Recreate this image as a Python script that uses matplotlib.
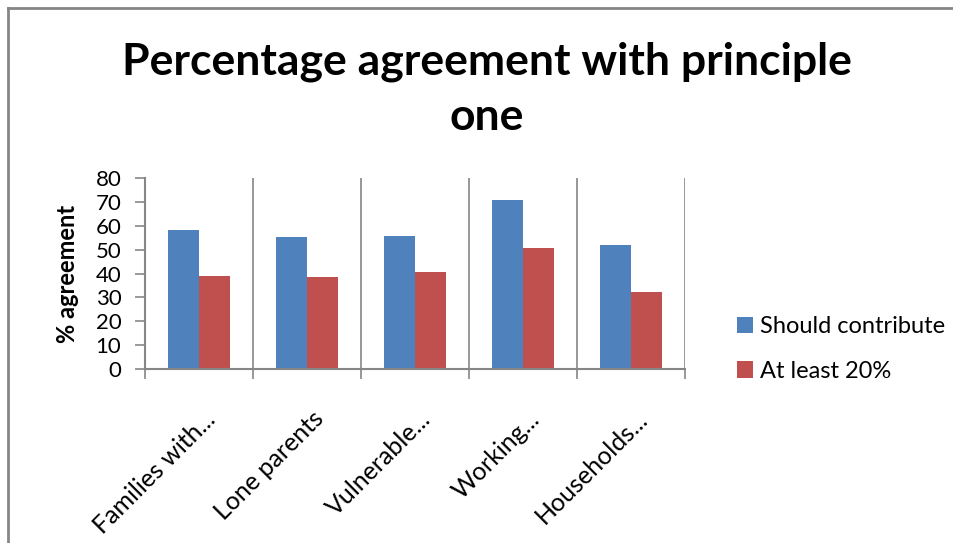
import numpy as np
import matplotlib.pyplot as plt
from matplotlib.lines import Line2D

categories = ['Families with...', 'Lone parents', 'Vulnerable...', 'Working...', 'Households...']
should_contribute = [58.3, 55.4, 55.8, 70.8, 52.0]
at_least_20 = [39.0, 38.6, 40.7, 50.7, 32.3]
series_names = ['Should contribute', 'At least 20%']

grey = '#868686'
blue = '#4F81BD'
red = '#C0504D'
title_font = ['Lato', 'DejaVu Sans']
body_font = ['Lato', 'DejaVu Sans']

fig = plt.figure(figsize=(9.54, 5.43), dpi=100)
ax = fig.add_axes([145 / 954, 174 / 543, 540 / 954, 191 / 543])

x = np.arange(len(categories))
w = 1 / 3.5
ax.bar(x - w / 2, should_contribute, w, color=blue, label=series_names[0])
ax.bar(x + w / 2, at_least_20, w, color=red, label=series_names[1])

ax.set_xlim(-0.5, len(categories) - 0.5)
ax.set_ylim(0, 80)
ax.set_yticks(range(0, 81, 10))
ax.tick_params(axis='y', direction='out', length=7, color=grey, width=1.2,
               labelsize=16, pad=10)

# category boundaries: ticks below the axis and vertical gridlines
bounds = np.arange(-0.5, len(categories), 1.0)
ax.set_xticks(bounds)
ax.set_xticklabels([])
ax.tick_params(axis='x', direction='out', length=7, color=grey, width=1.2)
for b in bounds[1:]:
    ax.axvline(b, color=grey, lw=1.2, zorder=0)
for xi, lab in zip(x, categories):
    ax.text(xi + 0.04, -16, lab, rotation=45, ha='right', va='top',
            rotation_mode='anchor', fontsize=18, family=body_font,
            transform=ax.transData)

for s in ['top', 'right']:
    ax.spines[s].set_visible(False)
for s in ['left', 'bottom']:
    ax.spines[s].set_color(grey)
    ax.spines[s].set_linewidth(1.5)
for t in ax.get_yticklabels():
    t.set_family(body_font)

ax.set_ylabel('% agreement', fontsize=17, fontweight='bold', family=body_font, labelpad=12)

fig.text(0.51, 1 - 62 / 543, 'Percentage agreement with principle', ha='center', va='center',
         fontsize=32, fontweight='bold', family=title_font)
fig.text(0.51, 1 - 117 / 543, 'one', ha='center', va='center',
         fontsize=32, fontweight='bold', family=title_font)

fig.legend(loc='center left', bbox_to_anchor=(725 / 954, 1 - 349 / 543), frameon=False,
           borderpad=0, handlelength=0.7, handleheight=0.7, handletextpad=0.3,
           labelspacing=1.0, prop={'family': body_font, 'size': 17})

# outer chart border (left and top visible)
fig.add_artist(Line2D([8 / 954, 8 / 954], [0, 1 - 8 / 543], color=grey, lw=2))
fig.add_artist(Line2D([8 / 954, 1], [1 - 8 / 543, 1 - 8 / 543], color=grey, lw=2))

fig.savefig('out.png', dpi=100)
